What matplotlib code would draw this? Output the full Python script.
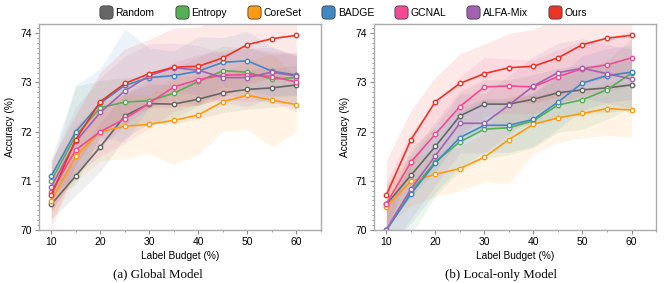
import numpy as np
import matplotlib
matplotlib.use("Agg")
import matplotlib.pyplot as plt
from matplotlib.lines import Line2D
from matplotlib.patches import FancyBboxPatch
from matplotlib.ticker import MultipleLocator

plt.rcParams['font.family'] = ['Liberation Sans', 'DejaVu Sans']

budget = [10, 15, 20, 25, 30, 35, 40, 45, 50, 55, 60]
methods = ["Random", "Entropy", "CoreSet", "BADGE", "GCNAL", "ALFA-Mix", "Ours"]
colors = ["#666666", "#55b055", "#ff9a10", "#3f88c5", "#f54a93", "#a461b4", "#ec3325"]

# (a) Global model: mean accuracy per budget
global_mean = {
    "Random":   [70.52, 71.10, 71.69, 72.32, 72.57, 72.56, 72.66, 72.79, 72.86, 72.89, 72.95],
    "Entropy":  [71.00, 71.92, 72.49, 72.60, 72.63, 72.78, 73.02, 73.24, 73.21, 73.07, 73.10],
    "CoreSet":  [70.59, 71.50, 72.00, 72.11, 72.15, 72.23, 72.34, 72.61, 72.74, 72.64, 72.55],
    "BADGE":    [71.10, 72.00, 72.58, 72.94, 73.10, 73.14, 73.23, 73.41, 73.44, 73.23, 73.15],
    "GCNAL":    [70.77, 71.63, 72.00, 72.26, 72.58, 72.91, 73.06, 73.15, 73.16, 73.12, 73.01],
    "ALFA-Mix": [70.88, 71.80, 72.39, 72.83, 73.14, 73.30, 73.25, 73.10, 73.10, 73.21, 73.13],
    "Ours":     [70.71, 71.84, 72.61, 72.98, 73.18, 73.31, 73.33, 73.50, 73.77, 73.89, 73.96],
}
global_std = {
    "Random":   [0.30, 0.40, 0.50, 0.45, 0.40, 0.40, 0.40, 0.40, 0.40, 0.40, 0.40],
    "Entropy":  [0.30, 1.00, 0.55, 0.50, 0.50, 0.50, 0.50, 0.50, 0.50, 0.50, 0.50],
    "CoreSet":  [0.35, 0.50, 0.60, 0.65, 0.60, 0.90, 0.80, 0.60, 0.70, 0.95, 0.55],
    "BADGE":    [0.35, 0.95, 0.70, 1.15, 0.60, 0.50, 0.70, 0.50, 0.60, 0.50, 0.40],
    "GCNAL":    [0.40, 0.50, 0.50, 0.50, 0.50, 0.50, 0.50, 0.50, 0.55, 0.50, 0.60],
    "ALFA-Mix": [0.50, 0.70, 0.70, 0.70, 0.65, 0.50, 0.50, 0.50, 0.60, 0.50, 0.40],
    "Ours":     [0.70, 0.50, 0.60, 0.70, 0.70, 0.80, 0.80, 0.80, 0.80, 0.80, 0.80],
}

# (b) Local-only model
local_mean = {
    "Random":   [70.52, 71.11, 71.70, 72.32, 72.56, 72.56, 72.66, 72.79, 72.85, 72.89, 72.95],
    "Entropy":  [69.99, 70.78, 71.39, 71.79, 72.05, 72.08, 72.22, 72.54, 72.65, 72.85, 73.19],
    "CoreSet":  [70.47, 70.99, 71.13, 71.25, 71.48, 71.84, 72.15, 72.28, 72.37, 72.47, 72.44],
    "BADGE":    [70.00, 70.73, 71.36, 71.88, 72.13, 72.13, 72.25, 72.60, 72.99, 73.14, 73.21],
    "GCNAL":    [70.53, 71.38, 71.95, 72.51, 72.91, 72.93, 72.91, 73.12, 73.28, 73.36, 73.50],
    "ALFA-Mix": [70.01, 70.83, 71.51, 72.17, 72.17, 72.54, 72.93, 73.20, 73.29, 73.18, 73.07],
    "Ours":     [70.71, 71.83, 72.61, 72.98, 73.18, 73.30, 73.33, 73.50, 73.77, 73.90, 73.96],
}
local_std = {
    "Random":   [0.40, 0.45, 0.50, 0.50, 0.50, 0.50, 0.50, 0.50, 0.50, 0.50, 0.50],
    "Entropy":  [0.40, 0.90, 0.70, 0.60, 0.60, 0.55, 0.55, 0.55, 0.60, 0.60, 0.70],
    "CoreSet":  [0.40, 0.50, 0.45, 0.45, 0.50, 0.90, 0.60, 0.50, 0.50, 0.55, 0.55],
    "BADGE":    [0.40, 0.60, 0.60, 0.60, 0.55, 0.55, 0.55, 0.55, 0.55, 0.55, 0.55],
    "GCNAL":    [0.45, 0.60, 0.60, 0.60, 0.60, 0.55, 0.55, 0.55, 0.55, 0.55, 0.55],
    "ALFA-Mix": [0.45, 0.60, 0.60, 0.60, 0.60, 0.60, 0.60, 0.60, 0.60, 0.60, 0.60],
    "Ours":     [0.70, 0.60, 0.50, 0.60, 0.60, 0.70, 0.75, 0.80, 0.80, 0.80, 0.80],
}

captions = ["(a) Global Model", "(b) Local-only Model"]


def draw_panel(ax, means, stds):
    x = np.array(budget)
    for name, c in zip(methods, colors):
        m = np.array(means[name])
        s = np.array(stds[name])
        ax.fill_between(x, m - s, m + s, color=c, alpha=0.10, lw=0)
    for name, c in zip(methods, colors):
        ax.plot(x, means[name], color=c, lw=1.2, marker="o", ms=3.2,
                mfc="white", mec=c, mew=1.0)
    ax.set_xlim(7.5, 65)
    ax.set_ylim(70, 74.19)
    ax.xaxis.set_major_locator(MultipleLocator(10))
    ax.xaxis.set_minor_locator(MultipleLocator(5))
    ax.yaxis.set_major_locator(MultipleLocator(1))
    ax.yaxis.set_minor_locator(MultipleLocator(0.1))
    ax.tick_params(which="major", length=3, width=0.8, color="#888888", labelsize=7.5, pad=2)
    ax.tick_params(which="minor", length=1.5, width=0.6, color="#888888")
    for sp in ax.spines.values():
        sp.set_color("#aaaaaa")
        sp.set_linewidth(1.0)
    ax.set_xlabel("Label Budget (%)", fontsize=7.3, labelpad=3)
    ax.set_ylabel("Accuracy (%)", fontsize=7.3, labelpad=4)


fig = plt.figure(figsize=(6.64, 2.83), dpi=100)
ax1 = fig.add_axes([0.0587, 0.1873, 0.4247, 0.728])
ax2 = fig.add_axes([0.5633, 0.1873, 0.4247, 0.728])
draw_panel(ax1, global_mean, global_std)
draw_panel(ax2, local_mean, local_std)

serif = ["Liberation Serif", "DejaVu Serif"]
fig.text(158 / 664, 0.030, captions[0], ha="center", va="center",
         fontsize=9.3, family=serif)
fig.text(501 / 664, 0.030, captions[1], ha="center", va="center",
         fontsize=9.3, family=serif)

# rounded square legend markers
box = FancyBboxPatch((-0.5, -0.5), 1, 1, boxstyle="round,pad=0,rounding_size=0.28")
rsq = box.get_path()
handles = [Line2D([], [], ls="none", marker=rsq, ms=9.5, mfc=c, mec="#444444", mew=0.6)
           for c in colors]
fig.legend(handles, methods, loc="center", bbox_to_anchor=(0.518, 0.955), ncol=7,
           frameon=False, fontsize=7.5, handletextpad=0.4, columnspacing=2.1,
           handlelength=1.0)

fig.savefig("out.png", dpi=100)
